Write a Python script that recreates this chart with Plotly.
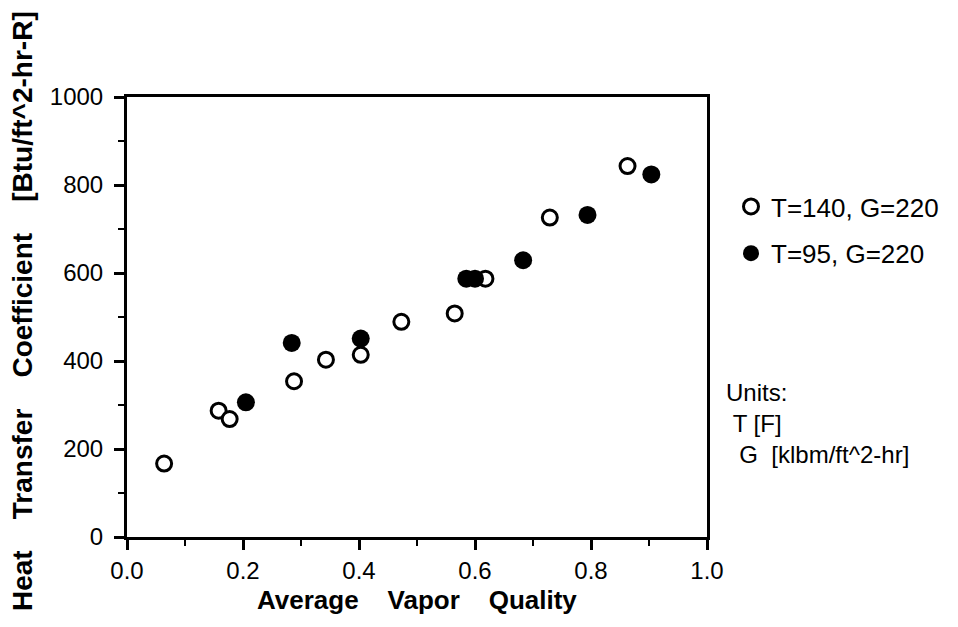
import plotly.graph_objects as go

# ---- data ----
x_open = [0.064, 0.158, 0.177, 0.288, 0.343, 0.403, 0.473, 0.565, 0.618, 0.729, 0.863]
y_open = [167, 287, 268, 354, 403, 414, 489, 508, 587, 726, 843]
x_fill = [0.205, 0.284, 0.403, 0.585, 0.600, 0.683, 0.794, 0.904]
y_fill = [306, 441, 451, 587, 587, 629, 732, 824]

name_open = "T=140, G=220"
name_fill = "T=95, G=220"
x_title = "Average\u00a0\u00a0\u00a0\u00a0Vapor\u00a0\u00a0\u00a0\u00a0Quality"
y_title = "Heat\u00a0\u00a0\u00a0\u00a0Transfer\u00a0\u00a0\u00a0\u00a0Coefficient\u00a0\u00a0\u00a0\u00a0[Btu/ft^2-hr-R]"
units_lines = ["Units:", "\u00a0T [F]", "\u00a0\u00a0G\u00a0\u00a0[klbm/ft^2-hr]"]

# ---- layout geometry (pixels) ----
W, H = 958, 627
L, R, T, B = 127, 707, 97, 537


def px_x(px):
    return (px - L) / (R - L)


def px_y(py):
    return (B - py) / (B - T)


FONT = "Liberation Sans, Arial, Helvetica, sans-serif"

fig = go.Figure()
fig.add_trace(go.Scatter(
    x=x_open, y=y_open, mode="markers", name=name_open, legendgroup="a",
    marker=dict(symbol="circle", size=15, color="white",
                line=dict(color="black", width=3)),
))
fig.add_trace(go.Scatter(
    x=x_fill, y=y_fill, mode="markers", name=name_fill, legendgroup="b",
    marker=dict(symbol="circle", size=18, color="black",
                line=dict(color="black", width=0)),
))

axis_common = dict(
    showgrid=False, zeroline=False, showline=True, linecolor="black",
    linewidth=3, mirror=True, ticks="outside", ticklen=10, tickwidth=2.5,
    tickcolor="black", tickfont=dict(family=FONT, size=24, color="black"),
)

fig.update_xaxes(range=[0, 1], dtick=0.2, tick0=0, tickformat=".1f",
                 minor=dict(dtick=0.1, ticks="outside", ticklen=6,
                            tickwidth=2, tickcolor="black"),
                 **axis_common)
fig.update_yaxes(range=[0, 1000], dtick=200, tick0=0, ticklabelstandoff=6,
                 minor=dict(dtick=100, ticks="outside", ticklen=6,
                            tickwidth=2, tickcolor="black"),
                 **axis_common)

annotations = [
    dict(text=x_title, x=0.5, y=px_y(600), xref="paper", yref="paper",
         xanchor="center", yanchor="middle", showarrow=False,
         font=dict(family=FONT, size=26, color="black", weight="bold")),
    dict(text=y_title, x=px_x(22), y=px_y(311), xref="paper", yref="paper",
         xanchor="center", yanchor="middle", textangle=-90, showarrow=False,
         font=dict(family=FONT, size=28, color="black", weight="bold")),
    dict(text="<br>".join(units_lines), x=px_x(724), y=px_y(423),
         xref="paper", yref="paper", xanchor="left", yanchor="middle",
         align="left", showarrow=False,
         font=dict(family=FONT, size=24, color="black")),
]

fig.update_layout(
    width=W, height=H,
    margin=dict(l=L, r=W - R, t=T, b=H - B, pad=0),
    paper_bgcolor="white", plot_bgcolor="white",
    showlegend=True,
    legend=dict(x=px_x(731), y=px_y(183), xanchor="left", yanchor="top",
                traceorder="grouped", tracegroupgap=10,
                font=dict(family=FONT, size=26, color="black"),
                bgcolor="rgba(0,0,0,0)", borderwidth=0),
    annotations=annotations,
)

fig.write_html("out.html")
